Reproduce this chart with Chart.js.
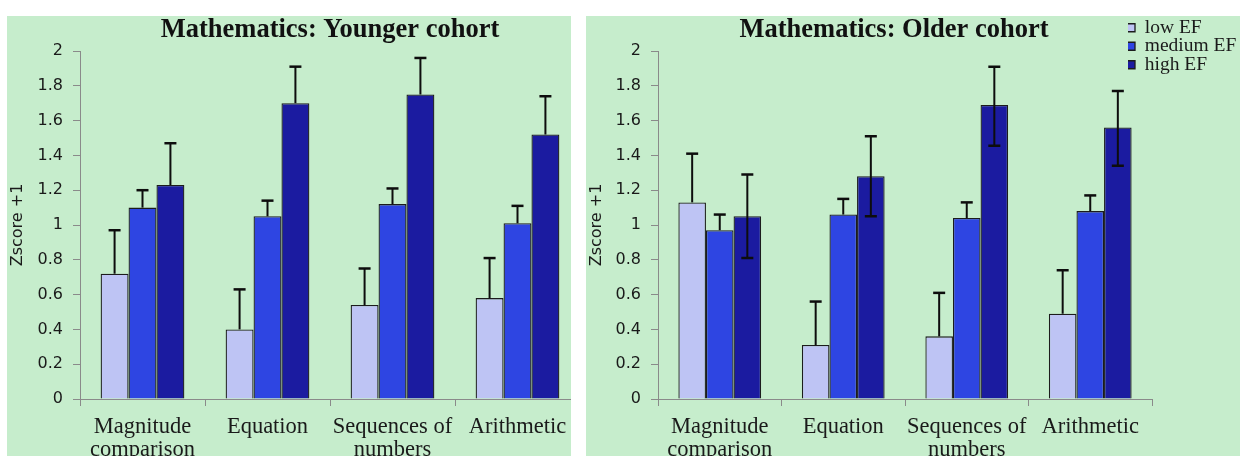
<!DOCTYPE html>
<html><head><meta charset="utf-8">
<script src="https://cdn.jsdelivr.net/npm/chart.js@4.4.1/dist/chart.umd.min.js"></script>
<style>
html,body{margin:0;padding:0;background:#fff;width:1244px;height:456px;overflow:hidden;}
.panel{position:absolute;top:16px;height:440px;background:#c6edcc;overflow:hidden;}
#p1{left:7px;width:564px;}
#p2{left:586px;width:654px;}
canvas{position:absolute;left:0;top:0;}
</style></head><body>
<div class="panel" id="p1"><canvas id="c1" width="573" height="440"></canvas></div>
<div class="panel" id="p2"><canvas id="c2" width="654" height="440"></canvas></div>
<script>
// ---- data ----
const categories = [['Magnitude', 'comparison'], 'Equation', ['Sequences of', 'numbers'], 'Arithmetic'];
const seriesNames = ['low EF', 'medium EF', 'high EF'];
const yTicks = [0, 0.2, 0.4, 0.6, 0.8, 1, 1.2, 1.4, 1.6, 1.8, 2];

const youngLow = [0.72, 0.40, 0.54, 0.58];
const youngMedium = [1.10, 1.05, 1.12, 1.01];
const youngHigh = [1.23, 1.70, 1.75, 1.52];
const youngLowErr = [0.25, 0.23, 0.21, 0.23];
const youngMediumErr = [0.10, 0.09, 0.09, 0.10];
const youngHighErr = [0.24, 0.21, 0.21, 0.22];

const oldLow = [1.13, 0.31, 0.36, 0.49];
const oldMedium = [0.97, 1.06, 1.04, 1.08];
const oldHigh = [1.05, 1.28, 1.69, 1.56];
const oldLowErr = [0.28, 0.25, 0.25, 0.25];
const oldMediumErr = [0.09, 0.09, 0.09, 0.09];
const oldHighErr = [0.24, 0.23, 0.22, 0.21];
const oldHighErrBelow = [0.24, 0.23, 0.235, 0.22];

// ---- styles ----
const colors = ['#bec4f4', '#2e45e2', '#1b1ba0'];
const axisColor = '#8a8a8a';
const textColor = '#1a1a1a';

const errorBars = {
  id: 'errorBars',
  afterDatasetsDraw(chart) {
    const ctx = chart.ctx, y = chart.scales.y;
    chart.data.datasets.forEach((ds, i) => {
      const meta = chart.getDatasetMeta(i);
      meta.data.forEach((bar, j) => {
        const v = ds.data[j];
        const top = y.getPixelForValue(v + ds.errPlus[j]);
        const bot = ds.errMinus ? y.getPixelForValue(v - ds.errMinus[j]) : bar.y;
        ctx.save();
        ctx.strokeStyle = '#0d0d0d';
        ctx.lineWidth = 2;
        ctx.beginPath(); ctx.moveTo(bar.x, bot); ctx.lineTo(bar.x, top); ctx.stroke();
        ctx.lineWidth = 2.5;
        ctx.beginPath();
        ctx.moveTo(bar.x - 6, top); ctx.lineTo(bar.x + 6, top);
        if (ds.errMinus) { ctx.moveTo(bar.x - 6, bot); ctx.lineTo(bar.x + 6, bot); }
        ctx.stroke();
        ctx.restore();
      });
    });
  }
};

function makeDatasets(vals, errs, below) {
  return vals.map((v, i) => ({
    label: seriesNames[i],
    data: v,
    errPlus: errs[i],
    errMinus: below[i],
    backgroundColor: colors[i],
    borderColor: '#1c1c1c',
    borderWidth: 1.3,
    barPercentage: 1,
    categoryPercentage: 0.67
  }));
}

function makeOptions(title, yWidth, showLegend) {
  return {
    responsive: false,
    animation: false,
    devicePixelRatio: 1,
    layout: { padding: 0 },
    plugins: {
      tooltip: { enabled: false },
      title: {
        display: true, text: title, fullSize: false, color: '#111',
        font: { family: 'Liberation Serif', size: 26.5, weight: 'bold', lineHeight: 20 / 26.5 },
        padding: { top: 4, bottom: 11 }
      },
      legend: {
        display: showLegend, position: 'right', align: 'start', fullSize: true, maxWidth: 88,
        labels: {
          boxWidth: 8, boxHeight: 8, padding: -1, color: textColor,
          font: { family: 'Liberation Serif', size: 19.5 }
        }
      }
    },
    scales: {
      x: {
        grid: { offset: true, drawOnChartArea: false, drawTicks: true, tickLength: 7, color: axisColor },
        border: { color: axisColor, width: 1 },
        ticks: {
          color: textColor, padding: 10, maxRotation: 0, autoSkip: false,
          font: { family: 'Liberation Serif', size: 22.5, lineHeight: 23 / 22.5 }
        },
        afterFit(s) { s.height = 57; }
      },
      y: {
        min: 0, max: 2,
        afterBuildTicks(s) { s.ticks = yTicks.map(v => ({ value: v })); },
        grid: { drawOnChartArea: false, drawTicks: true, tickLength: 7, color: axisColor },
        border: { color: axisColor, width: 1 },
        ticks: {
          color: textColor, padding: 10,
          font: { family: 'DejaVu Sans', size: 16 },
          callback: v => String(v)
        },
        title: {
          display: true, text: 'Zscore +1', color: textColor,
          font: { family: 'DejaVu Sans', size: 16, lineHeight: 1.25 },
          padding: { top: 1, bottom: 0 }
        },
        afterFit(s) { s.width = yWidth; }
      }
    }
  };
}

new Chart(document.getElementById('c1'), {
  type: 'bar',
  data: {
    labels: categories,
    datasets: makeDatasets([youngLow, youngMedium, youngHigh],
      [youngLowErr, youngMediumErr, youngHighErr], [null, null, null])
  },
  options: makeOptions('Mathematics: Younger cohort', 73, false),
  plugins: [errorBars]
});

const shiftRight = {
  id: 'shiftRight',
  afterLayout(chart) {
    const t = chart.titleBlock; t.left -= 11; t.right -= 11;
    const l = chart.legend; l.left = 542; l.right = 654; l.top = 3;
  }
};

new Chart(document.getElementById('c2'), {
  type: 'bar',
  data: {
    labels: categories,
    datasets: makeDatasets([oldLow, oldMedium, oldHigh],
      [oldLowErr, oldMediumErr, oldHighErr], [null, null, oldHighErrBelow])
  },
  options: makeOptions('Mathematics: Older cohort', 72, true),
  plugins: [errorBars, shiftRight]
});
</script>
</body></html>
